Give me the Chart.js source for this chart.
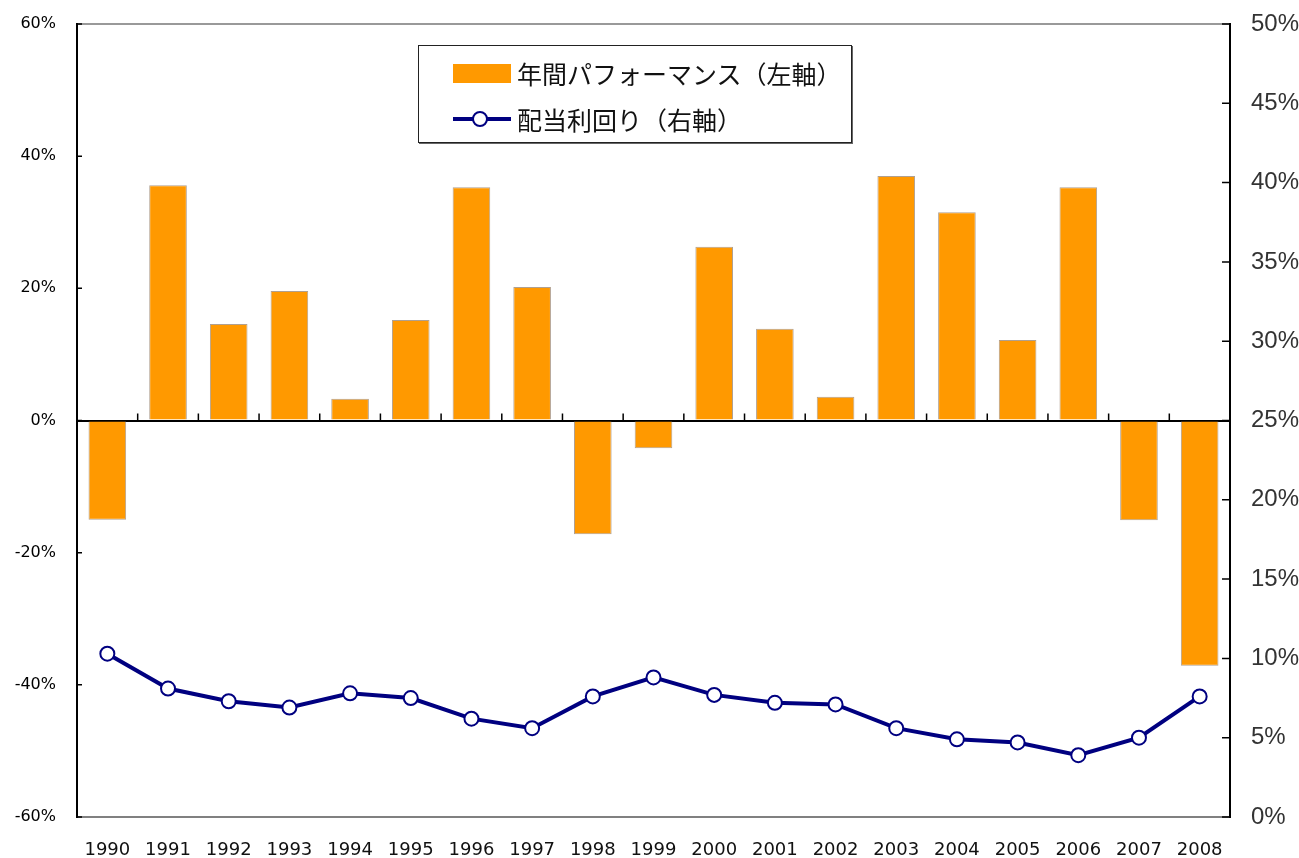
<!DOCTYPE html>
<html>
<head>
<meta charset="utf-8">
<script src="https://cdn.jsdelivr.net/npm/chart.js@4/dist/chart.umd.min.js"></script>
<style>
  html, body { margin: 0; padding: 0; background: #fff; }
  #wrap { position: relative; width: 1299px; height: 858px; }
  #legend {
    position: absolute; left: 418px; top: 45px; width: 432px; height: 96px;
    border: 1px solid #222; box-shadow: 1px 1px 0 #666; background: #fff;
    font-family: "Noto Sans CJK JP", sans-serif; font-size: 25px; color: #111;
  }
  .row { position: absolute; left: 34px; height: 30px; display: flex; align-items: center; white-space: nowrap; }
  .swatch { width: 58px; height: 19px; background: #ff9900; margin-right: 6px; }
  .lineSym { position: relative; width: 58px; height: 20px; margin-right: 6px; }
  .lineSym::before { content: ''; position: absolute; left: 0; right: 0; top: 8px; height: 4px; background: #000080; }
  .lineSym::after { content: ''; position: absolute; left: 19px; top: 2px; width: 12px; height: 12px;
    border: 2px solid #000080; border-radius: 50%; background: #fff; }
</style>
</head>
<body>
<div id="wrap">
  <canvas id="chart" width="1299" height="858"></canvas>
  <div id="legend">
    <div class="row" style="top:12px"><span class="swatch"></span><span>年間パフォーマンス（左軸）</span></div>
    <div class="row" style="top:58px"><span class="lineSym"></span><span>配当利回り（右軸）</span></div>
  </div>
</div>
<script>
const years = ['1990', '1991', '1992', '1993', '1994', '1995', '1996', '1997', '1998', '1999',
               '2000', '2001', '2002', '2003', '2004', '2005', '2006', '2007', '2008'];
const performance = [-15.0, 35.6, 14.6, 19.6, 3.3, 15.2, 35.3, 20.2, -17.2, -4.2,
                     26.3, 13.9, 3.6, 37.0, 31.5, 12.2, 35.3, -15.1, -37.1];
const dividendYield = [10.3, 8.1, 7.3, 6.9, 7.8, 7.5, 6.2, 5.6, 7.6, 8.8,
                       7.7, 7.2, 7.1, 5.6, 4.9, 4.7, 3.9, 5.0, 7.6];

// small inward tick marks on both value axes and on the zero line
const tickMarks = {
    id: 'tickMarks',
    afterDraw(chart) {
        const ctx = chart.ctx;
        const area = chart.chartArea;
        const y = chart.scales.y;
        const y2 = chart.scales.y2;
        const x = chart.scales.x;
        ctx.save();
        ctx.strokeStyle = '#000';
        ctx.lineWidth = 1.5;
        ctx.beginPath();
        y.ticks.forEach(t => {
            const py = y.getPixelForValue(t.value);
            ctx.moveTo(area.left, py);
            ctx.lineTo(area.left + 5, py);
        });
        y2.ticks.forEach(t => {
            const py = y2.getPixelForValue(t.value);
            ctx.moveTo(area.right, py);
            ctx.lineTo(area.right - 8, py);
        });
        const zero = y.getPixelForValue(0);
        for (let i = 1; i < years.length; i++) {
            const px = (x.getPixelForValue(i - 1) + x.getPixelForValue(i)) / 2;
            ctx.moveTo(px, zero);
            ctx.lineTo(px, zero - 7);
        }
        ctx.stroke();
        ctx.restore();
    }
};

const fitY = width => s => {
    s.width = width;
    s.paddingTop = 0;
    s.paddingBottom = 0;
};

new Chart(document.getElementById('chart'), {
    type: 'bar',
    data: {
        labels: years,
        datasets: [{
            type: 'line',
            label: '配当利回り（右軸）',
            data: dividendYield,
            yAxisID: 'y2',
            borderColor: '#000080',
            borderWidth: 4,
            pointRadius: 7,
            pointBorderWidth: 2,
            pointBackgroundColor: '#fff',
            pointBorderColor: '#000080',
            tension: 0,
            order: 0
        }, {
            label: '年間パフォーマンス（左軸）',
            data: performance,
            yAxisID: 'y',
            backgroundColor: '#ff9900',
            borderColor: '#b0a090',
            borderWidth: 1,
            barPercentage: 0.62,
            categoryPercentage: 1,
            order: 1
        }]
    },
    options: {
        responsive: false,
        animation: false,
        layout: { padding: { top: 24, left: 0, right: 0, bottom: 0 } },
        plugins: { legend: { display: false }, tooltip: { enabled: false } },
        scales: {
            x: {
                grid: { display: false },
                border: { color: '#808080', width: 2 },
                ticks: {
                    color: '#111',
                    font: { family: 'DejaVu Sans', size: 18 },
                    padding: 15,
                    maxRotation: 0
                },
                afterFit: s => { s.height = 41; s.paddingLeft = 0; s.paddingRight = 0; }
            },
            y: {
                position: 'left',
                min: -60,
                max: 60,
                grid: {
                    drawTicks: false,
                    color: c => c.tick.value === 0 ? '#000' : (c.tick.value === 60 ? '#999' : 'rgba(0,0,0,0)'),
                    lineWidth: 2
                },
                border: { color: '#000', width: 2 },
                ticks: {
                    stepSize: 20,
                    callback: v => v + '%',
                    color: '#000',
                    font: { family: 'DejaVu Sans', size: 16 },
                    padding: 21
                },
                afterFit: fitY(77)
            },
            y2: {
                position: 'right',
                min: 0,
                max: 50,
                grid: { drawOnChartArea: false, drawTicks: false },
                border: { color: '#000', width: 2 },
                ticks: {
                    stepSize: 5,
                    callback: v => v + '%',
                    color: '#333',
                    font: { family: 'Liberation Sans', size: 24 },
                    padding: 21
                },
                afterFit: fitY(69)
            }
        }
    },
    plugins: [tickMarks]
});
</script>
</body>
</html>
